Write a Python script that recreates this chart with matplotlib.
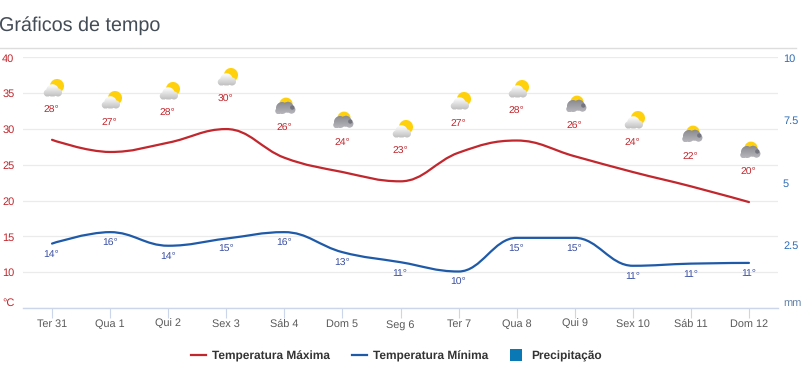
import numpy as np
import matplotlib
matplotlib.use("Agg")
import matplotlib.pyplot as plt
from matplotlib.lines import Line2D
from matplotlib.patches import PathPatch, Patch, Rectangle
from matplotlib.path import Path
from matplotlib.legend_handler import HandlerPatch
from matplotlib.offsetbox import OffsetImage, AnnotationBbox

plt.rcParams['font.family'] = ['Liberation Sans', 'DejaVu Sans']
plt.rcParams['text.hinting'] = 'no_hinting'

days = ["Ter 31", "Qua 1", "Qui 2", "Sex 3", "Sáb 4", "Dom 5", "Seg 6",
        "Ter 7", "Qua 8", "Qui 9", "Sex 10", "Sáb 11", "Dom 12"]
temp_max = [28.5, 26.8, 28.1, 30.0, 26.0, 24.0, 22.7, 26.7, 28.4, 26.2, 24.0, 22.0, 19.8]
temp_min = [14.0, 15.6, 13.7, 14.7, 15.6, 12.8, 11.4, 10.1, 14.8, 14.8, 10.9, 11.2, 11.3]
labels_max = [28, 27, 28, 30, 26, 24, 23, 27, 28, 26, 24, 22, 20]
labels_min = [14, 16, 14, 15, 16, 13, 11, 10, 15, 15, 11, 11, 11]
dark_sky = [0, 0, 0, 0, 1, 1, 0, 0, 0, 1, 0, 1, 1]
left_ticks = [5, 10, 15, 20, 25, 30, 35, 40]
left_labels = ["°C", "10", "15", "20", "25", "30", "35", "40"]
right_ticks = [0, 2.5, 5, 7.5, 10]
right_labels = ["mm", "2.5", "5", "7.5", "10"]

RED = "#c1272d"
BLUE = "#1f5aa8"
W, H = 812, 390


def spline_path(xs, ys, smoothing=1.5):
    # bezier through the points, flat at local peaks
    n = len(xs)
    verts = [(xs[0], ys[0])]
    codes = [Path.MOVETO]
    left = [None] * n
    right = [None] * n
    d = smoothing + 1
    for i in range(n):
        if i == 0 or i == n - 1:
            left[i] = right[i] = (xs[i], ys[i])
            continue
        lx = (smoothing * xs[i] + xs[i - 1]) / d
        ly = (smoothing * ys[i] + ys[i - 1]) / d
        rx = (smoothing * xs[i] + xs[i + 1]) / d
        ry = (smoothing * ys[i] + ys[i + 1]) / d
        c = (ry - ly) * (rx - xs[i]) / (rx - lx) + ys[i] - ry
        ly += c
        ry += c
        if (ly > ys[i - 1] and ly > ys[i]) or (ly < ys[i - 1] and ly < ys[i]):
            ly = max(ys[i - 1], ys[i]) if ly > ys[i] else min(ys[i - 1], ys[i])
            ry = 2 * ys[i] - ly
        if (ry > ys[i + 1] and ry > ys[i]) or (ry < ys[i + 1] and ry < ys[i]):
            ry = max(ys[i + 1], ys[i]) if ry > ys[i] else min(ys[i + 1], ys[i])
            ly = 2 * ys[i] - ry
        left[i] = (lx, ly)
        right[i] = (rx, ry)
    for i in range(1, n):
        verts += [right[i - 1], left[i], (xs[i], ys[i])]
        codes += [Path.CURVE4, Path.CURVE4, Path.CURVE4]
    return Path(verts, codes)


def make_icon(dark):
    # small weather picture, drawn at 4x then averaged down
    ss = 4
    h, w = 18, 22
    yy, xx = np.mgrid[0:h * ss, 0:w * ss]
    yy = (yy + 0.5) / ss
    xx = (xx + 0.5) / ss

    def disc(cx, cy, r):
        return (xx - cx) ** 2 + (yy - cy) ** 2 <= r ** 2

    img = np.zeros((h * ss, w * ss, 4))
    if dark:
        sun = disc(11, 7.2, 6.6) & (yy < 13)
        cloud = (disc(7, 11, 6) | disc(13, 10.3, 5.5) | disc(16.5, 12.8, 3.9)
                 | disc(3.5, 14, 3.2)) & (yy < 17)
        top, bottom = np.array([.55, .55, .58]), np.array([.72, .72, .74])
    else:
        sun = disc(14, 7, 7) & (yy < 13.5)
        cloud = (disc(9.5, 11.5, 6.2) | disc(4.5, 14, 3.7) | disc(15, 13.5, 4)) & (yy < 17.5)
        top, bottom = np.array([.99, .99, .99]), np.array([.76, .76, .76])
    img[sun] = (1.0, .82, .05, 1)
    t = np.clip((yy - 6) / 11, 0, 1)[..., None]
    shade = top * (1 - t) + bottom * t
    img[cloud, :3] = shade[cloud]
    img[cloud, 3] = 1
    if dark:
        spot = disc(17.3, 10.5, 2.2)
        img[spot] = (.46, .46, .50, 1)
    # premultiply before averaging so edges stay clean
    rgb = img[..., :3] * img[..., 3:]
    small = np.zeros((h, w, 4))
    for j in range(h):
        for i in range(w):
            small[j, i, :3] = rgb[j * ss:(j + 1) * ss, i * ss:(i + 1) * ss].mean(axis=(0, 1))
            small[j, i, 3] = img[j * ss:(j + 1) * ss, i * ss:(i + 1) * ss, 3].mean()
    a = np.maximum(small[..., 3:], 1e-6)
    small[..., :3] = small[..., :3] / a
    return np.clip(small, 0, 1)


def square_handle(legend, orig_handle, xdescent, ydescent, width, height, fontsize):
    side = 12 * 0.72
    return Rectangle((0, height / 2 - side / 2), side, side)


fig = plt.figure(figsize=(W / 100, H / 100), dpi=100)
ax = fig.add_axes([23 / W, (H - 308) / H, 755 / W, 250.5 / H])
x = np.arange(len(days))

ax.set_xlim(-0.5, len(days) - 0.5)
ax.set_ylim(5, 40)
ax.set_xticks(x)
ax.set_xticklabels(days, fontsize=7.8, color="#5a5a5a", va="baseline")
ax.set_yticks(left_ticks)
ax.set_yticklabels(left_labels, fontsize=7.9, color=RED, ha="left")
ax.get_yticklabels()[0].set_va("bottom")
ax.tick_params(axis="x", length=7, width=0.8, color="#ccd6eb", pad=6.9)
ax.tick_params(axis="y", length=0, pad=15)
ax.grid(True, axis="y", color="#ebebeb", linewidth=0.9)
ax.set_axisbelow(True)
for s in ["top", "left", "right"]:
    ax.spines[s].set_visible(False)
ax.spines["bottom"].set_color("#ccd6eb")
ax.spines["bottom"].set_linewidth(1)

ax.add_patch(PathPatch(spline_path(x, temp_max), fill=False, edgecolor=RED, linewidth=1.6, capstyle="round"))
ax.add_patch(PathPatch(spline_path(x, temp_min), fill=False, edgecolor=BLUE, linewidth=1.6, capstyle="round"))

icons = [make_icon(False), make_icon(True)]
for i in x:
    ax.annotate(f"{labels_max[i]}°", (i, temp_max[i]), xytext=(-0.5, 29.5), textcoords="offset pixels",
                ha="center", va="center", fontsize=7.5, color=RED)
    ax.annotate(f"{labels_min[i]}°", (i, temp_min[i]), xytext=(-0.5, -11), textcoords="offset pixels",
                ha="center", va="center", fontsize=7.5, color="#3a50a5")
    box = OffsetImage(icons[dark_sky[i]], zoom=1, dpi_cor=False, interpolation="nearest")
    ax.add_artist(AnnotationBbox(box, (i, temp_max[i]), xybox=(2, 52), boxcoords="offset pixels",
                                 frameon=False, pad=0))

ax2 = ax.twinx()
ax2.set_ylim(0, 10)
ax2.set_yticks(right_ticks)
ax2.set_yticklabels(right_labels, fontsize=7.9, color="#2f6db5")
ax2.get_yticklabels()[0].set_va("bottom")
ax2.get_yticklabels()[0].set_color("#5f7fa8")
ax2.tick_params(axis="y", length=0, pad=3.6)
ax2.patch.set_visible(False)
for s in ax2.spines.values():
    s.set_visible(False)

fig.text(-1 / W, 1 - 25.5 / H, "Gráficos de tempo", fontsize=14.2, color="#444c56", ha="left", va="center")
fig.add_artist(Line2D([0, 796 / W], [1 - 47.5 / H, 1 - 47.5 / H], color="#dddddd", linewidth=1))

rain = Patch(facecolor="#0a78b5", edgecolor="none")
handles = [Line2D([], [], color=RED, linewidth=1.6),
           Line2D([], [], color=BLUE, linewidth=1.6),
           rain]
leg = fig.legend(handles, ["Temperatura Máxima", "Temperatura Mínima", "Precipitação"],
                 ncol=3, loc="center", bbox_to_anchor=(396.5 / W, 1 - 356 / H), frameon=False,
                 prop={"size": 8.6, "weight": "bold"}, labelcolor="#333333",
                 handlelength=1.25, handletextpad=0.55, columnspacing=1.8,
                 handler_map={rain: HandlerPatch(patch_func=square_handle)})

fig.savefig("out.png", dpi=100)
